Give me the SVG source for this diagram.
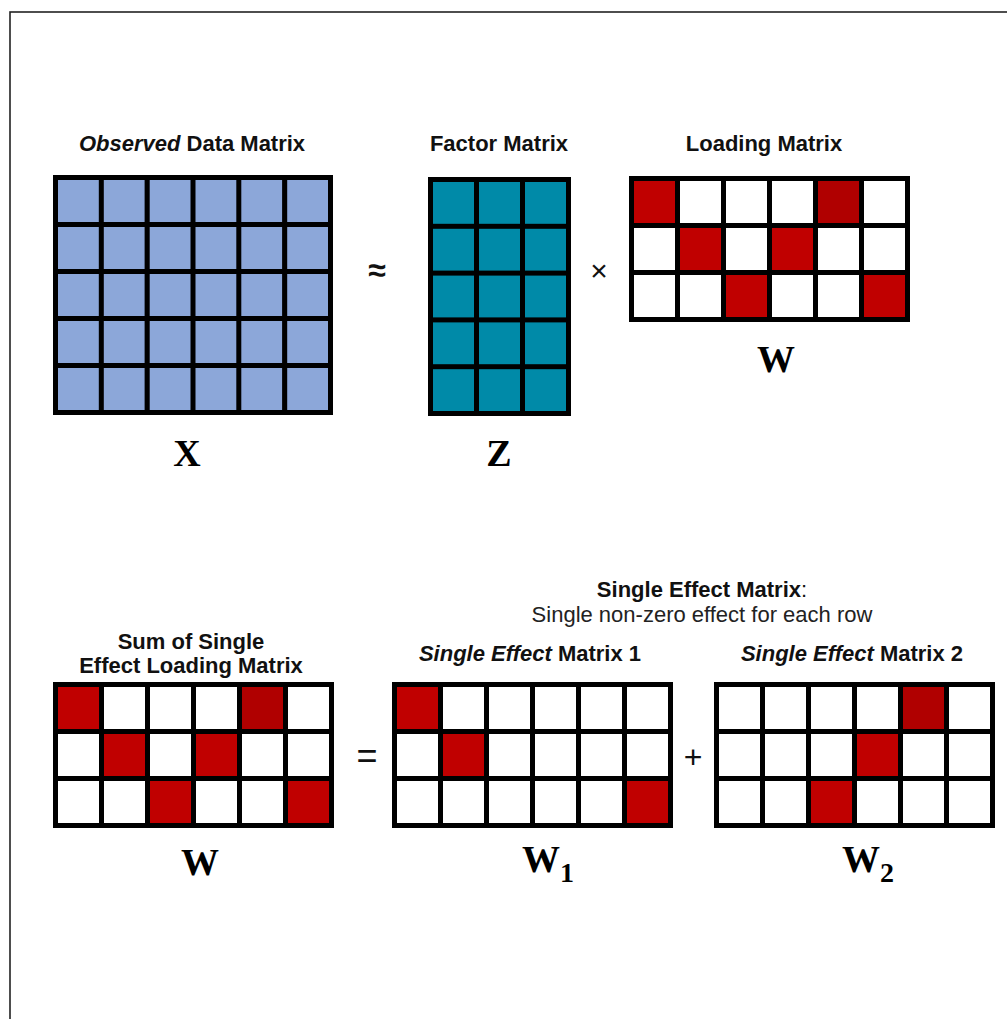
<svg xmlns="http://www.w3.org/2000/svg" xmlns:xlink="http://www.w3.org/1999/xlink" width="1007" height="1019" viewBox="0 0 1007 1019">
<style>
.bg{fill:#000}
.b{fill:#8CA7D9}
.t{fill:#008AA8}
.w{fill:#fff}
.r{fill:#C00000}
.rd{fill:#B00000}
.lbl{font-family:"Liberation Sans",Arial,sans-serif;font-weight:bold;font-size:22px;fill:#111;text-anchor:middle}
.sub{font-family:"Liberation Sans",Arial,sans-serif;font-size:22px;fill:#222;text-anchor:middle}
.m{font-family:"Liberation Serif","Times New Roman",serif;font-weight:bold;font-size:38px;fill:#000}
.op{font-family:"Liberation Sans",Arial,sans-serif;fill:#111;text-anchor:middle}
</style>
<defs>
<g id="grid63">
<rect class="bg" x="0" y="0" width="281" height="146"/>
<rect class="w" x="5" y="5" width="41" height="42"/><rect class="w" x="51" y="5" width="41" height="42"/><rect class="w" x="97" y="5" width="41" height="42"/><rect class="w" x="143" y="5" width="41" height="42"/><rect class="w" x="189" y="5" width="41" height="42"/><rect class="w" x="235" y="5" width="41" height="42"/>
<rect class="w" x="5" y="52" width="41" height="42"/><rect class="w" x="51" y="52" width="41" height="42"/><rect class="w" x="97" y="52" width="41" height="42"/><rect class="w" x="143" y="52" width="41" height="42"/><rect class="w" x="189" y="52" width="41" height="42"/><rect class="w" x="235" y="52" width="41" height="42"/>
<rect class="w" x="5" y="99" width="41" height="42"/><rect class="w" x="51" y="99" width="41" height="42"/><rect class="w" x="97" y="99" width="41" height="42"/><rect class="w" x="143" y="99" width="41" height="42"/><rect class="w" x="189" y="99" width="41" height="42"/><rect class="w" x="235" y="99" width="41" height="42"/>
</g>
</defs>
<rect x="10" y="12" width="1100" height="1100" fill="none" stroke="#222" stroke-width="1.6"/>

<g id="matrix-X">
<text class="lbl" x="192" y="151"><tspan font-style="italic">Observed</tspan> Data Matrix</text>
<g transform="translate(53,175)">
<rect class="bg" x="0" y="0" width="280" height="240"/>
<g class="b">
<rect x="5" y="5" width="40.8" height="42"/><rect x="50.8" y="5" width="40.8" height="42"/><rect x="96.7" y="5" width="40.8" height="42"/><rect x="142.5" y="5" width="40.8" height="42"/><rect x="188.3" y="5" width="40.8" height="42"/><rect x="234.2" y="5" width="40.8" height="42"/>
<rect x="5" y="52" width="40.8" height="42"/><rect x="50.8" y="52" width="40.8" height="42"/><rect x="96.7" y="52" width="40.8" height="42"/><rect x="142.5" y="52" width="40.8" height="42"/><rect x="188.3" y="52" width="40.8" height="42"/><rect x="234.2" y="52" width="40.8" height="42"/>
<rect x="5" y="99" width="40.8" height="42"/><rect x="50.8" y="99" width="40.8" height="42"/><rect x="96.7" y="99" width="40.8" height="42"/><rect x="142.5" y="99" width="40.8" height="42"/><rect x="188.3" y="99" width="40.8" height="42"/><rect x="234.2" y="99" width="40.8" height="42"/>
<rect x="5" y="146" width="40.8" height="42"/><rect x="50.8" y="146" width="40.8" height="42"/><rect x="96.7" y="146" width="40.8" height="42"/><rect x="142.5" y="146" width="40.8" height="42"/><rect x="188.3" y="146" width="40.8" height="42"/><rect x="234.2" y="146" width="40.8" height="42"/>
<rect x="5" y="193" width="40.8" height="42"/><rect x="50.8" y="193" width="40.8" height="42"/><rect x="96.7" y="193" width="40.8" height="42"/><rect x="142.5" y="193" width="40.8" height="42"/><rect x="188.3" y="193" width="40.8" height="42"/><rect x="234.2" y="193" width="40.8" height="42"/>
</g>
</g>
<text class="m" x="187" y="466" text-anchor="middle">X</text>
</g>

<text class="op" x="377" y="281" font-size="32" font-weight="bold">≈</text>

<g id="matrix-Z">
<text class="lbl" x="499" y="151">Factor Matrix</text>
<g transform="translate(428,177)">
<rect class="bg" x="0" y="0" width="143" height="239"/>
<g class="t">
<rect x="5" y="5" width="41" height="41.8"/><rect x="51" y="5" width="41" height="41.8"/><rect x="97" y="5" width="41" height="41.8"/>
<rect x="5" y="51.8" width="41" height="41.8"/><rect x="51" y="51.8" width="41" height="41.8"/><rect x="97" y="51.8" width="41" height="41.8"/>
<rect x="5" y="98.6" width="41" height="41.8"/><rect x="51" y="98.6" width="41" height="41.8"/><rect x="97" y="98.6" width="41" height="41.8"/>
<rect x="5" y="145.4" width="41" height="41.8"/><rect x="51" y="145.4" width="41" height="41.8"/><rect x="97" y="145.4" width="41" height="41.8"/>
<rect x="5" y="192.2" width="41" height="41.8"/><rect x="51" y="192.2" width="41" height="41.8"/><rect x="97" y="192.2" width="41" height="41.8"/>
</g>
</g>
<text class="m" x="499" y="466" text-anchor="middle">Z</text>
</g>

<text class="op" x="599" y="281" font-size="30">×</text>

<g id="matrix-W-top">
<text class="lbl" x="764" y="151">Loading Matrix</text>
<g transform="translate(629,176)">
<use xlink:href="#grid63" href="#grid63"/>
<rect class="r" x="5" y="5" width="41" height="42"/>
<rect class="rd" x="189" y="5" width="41" height="42"/>
<rect class="r" x="51" y="52" width="41" height="42"/>
<rect class="r" x="143" y="52" width="41" height="42"/>
<rect class="r" x="97" y="99" width="41" height="42"/>
<rect class="r" x="235" y="99" width="41" height="42"/>
</g>
<text class="m" x="776" y="372" text-anchor="middle">W</text>
</g>

<g id="header-single-effect">
<text class="lbl" x="702" y="597">Single Effect Matrix<tspan font-weight="normal">:</tspan></text>
<text class="sub" x="702" y="622">Single non-zero effect for each row</text>
</g>

<g id="matrix-W-sum">
<text class="lbl" x="191" y="649">Sum of Single</text>
<text class="lbl" x="191" y="673">Effect Loading Matrix</text>
<g transform="translate(53,682)">
<use xlink:href="#grid63" href="#grid63"/>
<rect class="r" x="5" y="5" width="41" height="42"/>
<rect class="rd" x="189" y="5" width="41" height="42"/>
<rect class="r" x="51" y="52" width="41" height="42"/>
<rect class="r" x="143" y="52" width="41" height="42"/>
<rect class="r" x="97" y="99" width="41" height="42"/>
<rect class="r" x="235" y="99" width="41" height="42"/>
</g>
<text class="m" x="200" y="875" text-anchor="middle">W</text>
</g>

<text class="op" x="367" y="768" font-size="36">=</text>

<g id="matrix-W1">
<text class="lbl" x="530" y="661"><tspan font-style="italic">Single Effect</tspan> Matrix 1</text>
<g transform="translate(392,682)">
<use xlink:href="#grid63" href="#grid63"/>
<rect class="r" x="5" y="5" width="41" height="42"/>
<rect class="r" x="51" y="52" width="41" height="42"/>
<rect class="r" x="235" y="99" width="41" height="42"/>
</g>
<text class="m" x="522" y="872">W<tspan font-size="28" dy="10">1</tspan></text>
</g>

<text class="op" x="693" y="768" font-size="32">+</text>

<g id="matrix-W2">
<text class="lbl" x="852" y="661"><tspan font-style="italic">Single Effect</tspan> Matrix 2</text>
<g transform="translate(714,682)">
<use xlink:href="#grid63" href="#grid63"/>
<rect class="rd" x="189" y="5" width="41" height="42"/>
<rect class="r" x="143" y="52" width="41" height="42"/>
<rect class="r" x="97" y="99" width="41" height="42"/>
</g>
<text class="m" x="842" y="872">W<tspan font-size="28" dy="10">2</tspan></text>
</g>
</svg>
